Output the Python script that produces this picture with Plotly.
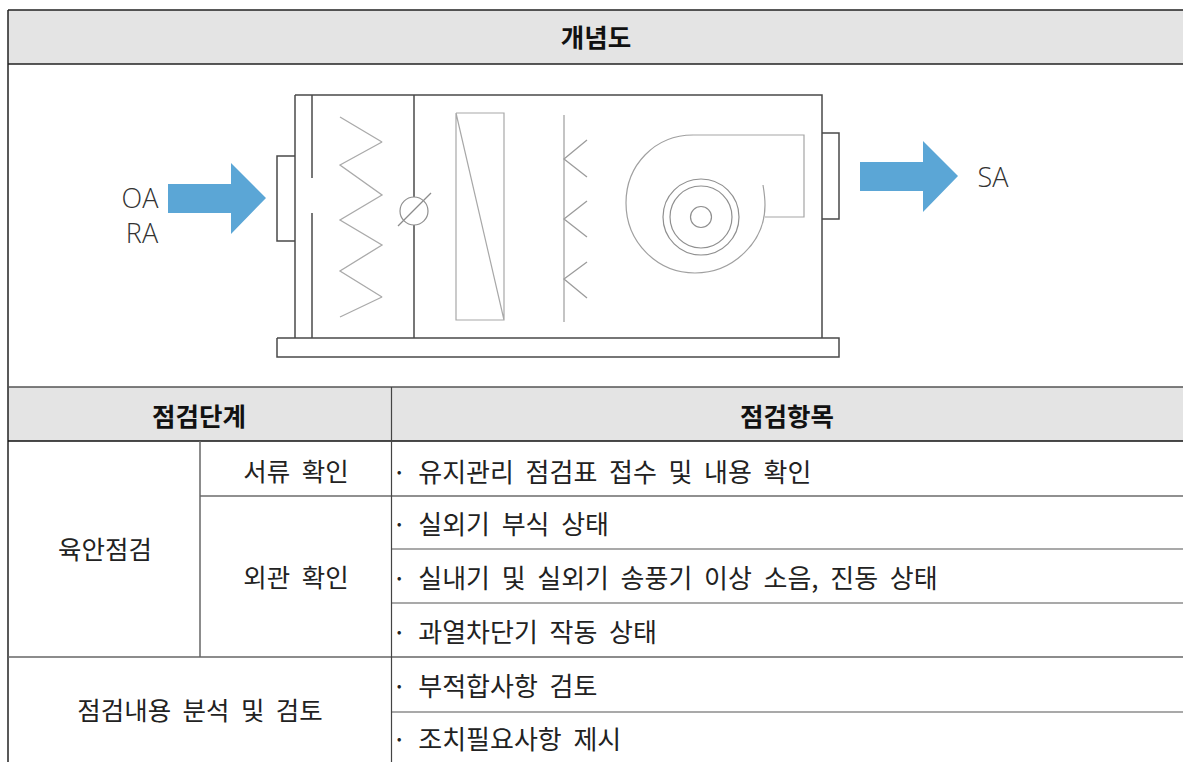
import plotly.graph_objects as go

KR = "Noto Sans CJK KR"
HEADER_FILL = "#e4e4e4"
ARROW = "#5ba6d6"

# table geometry
row_lines = [10, 64, 387, 441, 496, 549, 603, 657, 712]
left, sub_col, main_col, right, bottom = 8, 200, 391.5, 1183, 762

# table text
header_labels = ["개념도", "점검단계", "점검항목"]
header_x = [596, 199, 787]
header_y = [41, 420, 420]

stage_labels = ["육안점검", "서류  확인", "외관  확인", "점검내용  분석  및  검토"]
stage_x = [105, 296, 296, 200]
stage_y = [553, 475, 581, 714]

item_labels = [
    "·  유지관리  점검표  접수  및  내용  확인",
    "·  실외기  부식  상태",
    "·  실내기  및  실외기  송풍기  이상  소음,  진동  상태",
    "·  과열차단기  작동  상태",
    "·  부적합사항  검토",
    "·  조치필요사항  제시",
]
item_x = [392] * 6
item_y = [475, 527, 581, 635, 689, 742]

# diagram text
air_labels = ["OA", "RA", "SA"]
air_x = [140, 142, 993]
air_y = [201, 236, 180]

# diagram polylines
coil_x = [340, 382, 340, 382, 340, 382, 340, 382, 340]
coil_y = [117, 142, 165, 195, 220, 245, 271, 297, 317]
filter_x = [456, 504, 504, 456, 456, 504]
filter_y = [113, 113, 320, 320, 113, 320]
elim_x = [564, 564]
elim_y = [115, 322]
chevron_x = [587, 564, 587]
chevron_ys = [[140, 159, 177], [201, 219, 237], [262, 279, 298]]
damper_x = [398, 431]
damper_y = [226, 193]
duct_x = [693, 804, 804, 765]
duct_y = [135, 135, 217, 217]
inlet_x = [168, 231, 231, 266, 231, 231, 168, 168]
inlet_y = [184, 184, 163, 198, 234, 213, 213, 184]
outlet_x = [860, 923, 923, 958, 923, 923, 860, 860]
outlet_y = [162, 162, 141, 176, 212, 191, 191, 162]

# dark frame of the unit: x list, y list
frame_dark = [
    ([295, 822, 822], [95, 95, 338]),
    ([295, 295], [95, 338]),
    ([312, 312], [95, 178]),
    ([312, 312], [213, 338]),
    ([414, 414], [95, 197]),
    ([414, 414], [225, 338]),
    ([277, 839, 839, 277, 277], [338, 338, 357, 357, 338]),
    ([295, 277, 277, 295], [156, 156, 241, 241]),
    ([822, 839, 839, 822], [133, 133, 219, 219]),
]

fig = go.Figure()


def line(xs, ys, color, width):
    fig.add_trace(go.Scatter(x=xs, y=ys, mode="lines", hoverinfo="skip",
                             line=dict(color=color, width=width, simplify=False)))


def fill(xs, ys, color):
    fig.add_trace(go.Scatter(x=xs, y=ys, mode="lines", fill="toself", fillcolor=color,
                             hoverinfo="skip", line=dict(color=color, width=0)))


def text(xs, ys, labels, pos, size, color, family=KR, weight="normal"):
    fig.add_trace(go.Scatter(x=xs, y=ys, mode="text", text=labels, textposition=pos,
                             hoverinfo="skip",
                             textfont=dict(family=family, size=size, color=color, weight=weight)))


# header bands
for top, bot in ((row_lines[0], row_lines[1]), (row_lines[2], row_lines[3])):
    fig.add_shape(type="rect", x0=left, x1=right, y0=top, y1=bot,
                  fillcolor=HEADER_FILL, line_width=0, layer="below")

# table rules
line([left, left], [row_lines[0], bottom], "#222222", 1.5)
for y, c, w in zip(row_lines[:4], ["#222222", "#222222", "#555555", "#111111"], [1.5, 1.5, 1.5, 1.5]):
    line([left, right], [y, y], c, w)
line([sub_col, right], [row_lines[4], row_lines[4]], "#222222", 1.2)
line([main_col, right], [row_lines[5], row_lines[5]], "#555555", 1.2)
line([main_col, right], [row_lines[6], row_lines[6]], "#555555", 1.2)
line([left, right], [row_lines[7], row_lines[7]], "#666666", 1.5)
line([main_col, right], [row_lines[8], row_lines[8]], "#555555", 1.2)
line([main_col, main_col], [row_lines[2], bottom], "#444444", 1.2)
line([sub_col, sub_col], [row_lines[3], row_lines[7]], "#666666", 1.5)

# unit frame
for xs, ys in frame_dark:
    line(xs, ys, "#4a4a4a", 1.5)

# unit internals
line(coil_x, coil_y, "#aaaaaa", 1.3)
line(filter_x, filter_y, "#a8a8a8", 1.2)
line(elim_x, elim_y, "#a5a5a5", 1.3)
for ys in chevron_ys:
    line(chevron_x, ys, "#9c9c9c", 1.3)
line(damper_x, damper_y, "#8c8c8c", 1.2)
line(duct_x, duct_y, "#a5a5a5", 1.2)

fig.add_shape(type="path", line=dict(color="#a0a0a0", width=1.2),
              path="M 693 135 C 655 135 626 165 626 203 C 626 242 657 273 695 273 "
                   "C 733 273 765 242 765 205 C 765 198 764 191 763 185")
for cx, cy, r in [(414, 211, 14), (701, 217, 10.5), (701, 217, 31), (701, 217, 38)]:
    fig.add_shape(type="circle", x0=cx - r, x1=cx + r, y0=cy - r, y1=cy + r,
                  line=dict(color="#8f8f8f", width=1.2))

fill(inlet_x, inlet_y, ARROW)
fill(outlet_x, outlet_y, ARROW)

# text
text(header_x, header_y, header_labels, "middle center", 25.5, "#111111", weight="bold")
text(stage_x, stage_y, stage_labels, "middle center", 25.5, "#222222")
text(item_x, item_y, item_labels, "middle right", 26, "#222222")
text(air_x, air_y, air_labels, "middle center", 27, "#333333", family="Open Sans", weight=300)

fig.update_layout(
    width=1183, height=762, margin=dict(l=0, r=0, t=0, b=0),
    showlegend=False, paper_bgcolor="white", plot_bgcolor="white",
    xaxis=dict(range=[0, 1183], visible=False, fixedrange=True),
    yaxis=dict(range=[762, 0], visible=False, fixedrange=True),
)

fig.write_html(
    "out.html",
    config={"displayModeBar": False},
    post_script="document.body.style.margin='0';document.body.style.overflow='hidden';",
)
